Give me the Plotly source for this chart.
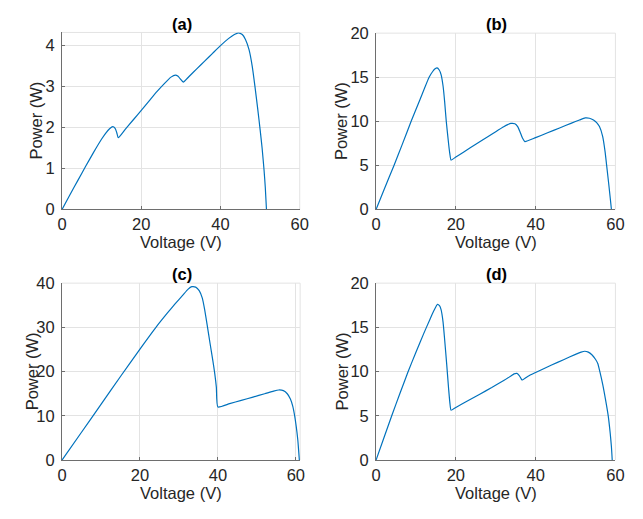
import plotly.graph_objects as go

W, H = 643, 519

# ---- data: power-voltage curves for four shading cases ----
volt_a = [0, 2, 4, 6, 8, 10, 11, 12, 12.8, 13.4, 13.8, 14.2, 16, 18, 20, 22, 24, 26, 27.5,
          28.6, 29.3, 29.9, 30.6, 32, 34, 36, 38, 40, 42, 43.5, 44.5, 45.5, 46.3, 47.2, 48,
          48.7, 49.4, 50, 50.5, 51, 51.3, 51.6]
power_a = [0, 0.36, 0.71, 1.06, 1.40, 1.72, 1.86, 1.97, 2.02, 1.98, 1.88, 1.75, 1.96, 2.19,
           2.42, 2.65, 2.88, 3.09, 3.23, 3.28, 3.25, 3.18, 3.11, 3.24, 3.43, 3.62, 3.81, 4.0,
           4.17, 4.27, 4.31, 4.27, 4.15, 3.9, 3.5, 3.0, 2.45, 1.95, 1.5, 0.95, 0.55, 0]

volt_b = [0, 2, 4.5, 6.5, 8.8, 11, 13.3, 14.2, 14.8, 15.3, 15.8, 16.3, 16.8, 17.2, 17.6, 18.2,
          18.5, 18.8, 20, 22, 25, 28, 30, 32, 33, 33.8, 34.8, 35.5, 36.1, 36.7, 37.3, 40, 43,
          46, 49, 51, 52.4, 53.5, 54.5, 55.3, 56, 56.8, 57.4, 57.8, 58.3, 58.7, 59.0]
power_b = [0, 2.25, 5.0, 7.3, 10.0, 12.45, 15.0, 15.65, 15.95, 16.06, 15.85, 15.3, 14.0, 12.2,
           10.0, 7.4, 6.3, 5.6, 5.95, 6.53, 7.4, 8.26, 8.83, 9.38, 9.62, 9.76, 9.72, 9.4,
           8.8, 8.1, 7.7, 8.15, 8.7, 9.25, 9.8, 10.15, 10.38, 10.35, 10.15, 9.85, 9.4, 8.3,
           6.6, 5.0, 3.0, 1.3, 0]

volt_c = [0, 5, 10, 15, 20, 24, 27, 29, 31, 32.3, 33.3, 34.3, 35.2, 36, 36.6, 37.2, 38,
          38.7, 39.2, 39.6, 40.0, 43, 46, 49, 52, 54.3, 55.6, 56.8, 57.8, 58.6, 59.2, 59.7,
          60.1, 60.5, 60.9]
power_c = [0, 6.3, 12.6, 18.9, 25.1, 29.9, 33.2, 35.3, 37.3, 38.6, 39.2, 39.1, 38.3, 36.6,
           34.0, 30.8, 26.3, 22.5, 19.5, 16.5, 12.0, 12.75, 13.5, 14.25, 15.0, 15.6, 15.85,
           15.7, 15.0, 13.8, 12.2, 10, 7.6, 4.6, 0]

volt_d = [0, 2, 4, 6, 8, 10, 12, 13.5, 14.5, 15.4, 15.9, 16.3, 16.8, 17.2, 17.7, 18.2, 18.5,
          18.8, 20, 23, 26, 29, 32, 33.8, 34.6, 35.3, 35.9, 36.3, 36.6, 38, 40, 44, 47, 50,
          51.4, 52.3, 53.2, 54.1, 55, 55.6, 56.1, 56.8, 57.5, 58.2, 58.7, 59.0, 59.2]
power_d = [0, 2.55, 5.1, 7.55, 9.95, 12.2, 14.35, 15.9, 16.9, 17.6, 17.45, 17.0, 15.6, 13.6,
           10.9, 8.0, 6.5, 5.64, 5.95, 6.7, 7.45, 8.2, 9.0, 9.5, 9.75, 9.8, 9.55, 9.25, 9.05,
           9.45, 9.9, 10.75, 11.35, 11.95, 12.2, 12.3, 12.2, 11.9, 11.4, 10.9, 10.0, 8.6, 6.9,
           5.0, 3.0, 1.5, 0]

panel_titles = ["(a)", "(b)", "(c)", "(d)"]
x_ticks = [0, 20, 40, 60]
y_ticks = [[0, 1, 2, 3, 4], [0, 5, 10, 15, 20], [0, 10, 20, 30, 40], [0, 5, 10, 15, 20]]
x_ranges = [[0, 60], [0, 60], [0, 61.1], [0, 60]]
y_ranges = [[0, 4.32], [0, 20], [0, 40], [0, 20]]

series = [(volt_a, power_a), (volt_b, power_b), (volt_c, power_c), (volt_d, power_d)]

# plot-area boxes in pixels: (left, right, top, bottom)
boxes = [(58.3, 301.3, 24.3, 207.7),
         (379.3, 624.0, 25.0, 207.7),
         (58.3, 301.7, 284.0, 467.3),
         (379.3, 624.0, 284.0, 467.3)]
# horizontal offset of the y-axis title from the axis line
ylabel_offset = [27, 35, 31, 35]

FONT = "Liberation Sans, Arial, sans-serif"
TXT = "#262626"
AXIS = "#6e6e6e"
GRID = "#e3e3e3"
LINE = "#0072BD"


def px_x(p):
    return p / W


def px_y(p):
    return 1 - p / H


fig = go.Figure()
shapes = []
annotations = []

for i, ((v, p), (l, r, t, b)) in enumerate(zip(series, boxes)):
    n = "" if i == 0 else str(i + 1)
    xa, ya = "x" + n, "y" + n
    fig.add_trace(go.Scatter(x=v, y=p, mode="lines", xaxis=xa, yaxis=ya,
                             line=dict(color=LINE, width=1.2, shape="spline", smoothing=0.5),
                             showlegend=False, hoverinfo="skip"))
    axis_common = dict(showgrid=True, gridcolor=GRID, gridwidth=1, zeroline=False,
                       showline=True, linecolor=AXIS, linewidth=1,
                       ticks="inside", ticklen=3, tickcolor=AXIS, tickwidth=1,
                       tickfont=dict(family=FONT, size=16.5, color=TXT))
    fig.update_layout(**{
        "xaxis" + n: dict(domain=[px_x(l), px_x(r)], range=x_ranges[i], tickvals=x_ticks,
                          anchor=ya, ticklabelstandoff=0, **axis_common),
        "yaxis" + n: dict(domain=[px_y(b), px_y(t)], range=y_ranges[i], tickvals=y_ticks[i],
                          anchor=xa, ticklabelstandoff=3, **axis_common),
    })
    # light top and right box edges
    shapes.append(dict(type="line", xref=xa + " domain", yref=ya + " domain",
                       x0=0, x1=1, y0=1, y1=1, line=dict(color=GRID, width=1), layer="below"))
    shapes.append(dict(type="line", xref=xa + " domain", yref=ya + " domain",
                       x0=1, x1=1, y0=0, y1=1, line=dict(color=GRID, width=1), layer="below"))
    cx = (l + r) / 2
    annotations.append(dict(text="<b>" + panel_titles[i] + "</b>", x=px_x(cx + 1),
                            y=px_y(t - 9), xref="paper", yref="paper", showarrow=False,
                            font=dict(family=FONT, size=16.5, color="#000000"),
                            xanchor="center", yanchor="middle"))
    annotations.append(dict(text="Voltage (V)", x=px_x(cx), y=px_y(b + 34),
                            xref="paper", yref="paper", showarrow=False,
                            font=dict(family=FONT, size=16.5, color=TXT),
                            xanchor="center", yanchor="middle"))
    annotations.append(dict(text="Power (W)", x=px_x(l - ylabel_offset[i]), y=px_y((t + b) / 2),
                            xref="paper", yref="paper", showarrow=False, textangle=-90,
                            font=dict(family=FONT, size=16.5, color=TXT),
                            xanchor="center", yanchor="middle"))

fig.update_layout(width=W, height=H, margin=dict(l=0, r=0, t=0, b=0),
                  paper_bgcolor="white", plot_bgcolor="white",
                  shapes=shapes, annotations=annotations)

fig.write_html("out.html")
